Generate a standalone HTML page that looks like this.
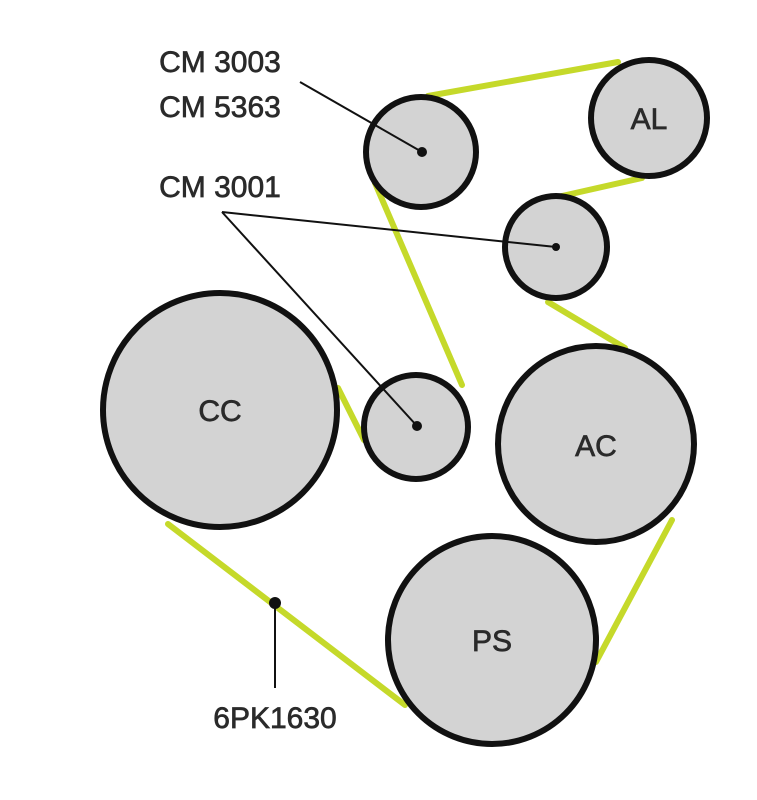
<!DOCTYPE html>
<html><head><style>
html,body{margin:0;padding:0;background:#fff;}
svg{display:block;}
text{font-family:"Liberation Sans",sans-serif;fill:#2a2a2a;stroke:#2a2a2a;stroke-width:0.7;}
</style></head><body>
<svg width="757" height="800" viewBox="0 0 757 800">
<g stroke="#c5d92a" stroke-width="6" stroke-linecap="round">
<line x1="428" y1="96" x2="618" y2="62"/>
<line x1="642" y1="178" x2="562" y2="196"/>
<line x1="548" y1="302" x2="625" y2="348"/>
<line x1="672" y1="520" x2="596" y2="662"/>
<line x1="405" y1="705" x2="168" y2="524"/>
<line x1="338" y1="388" x2="364" y2="440"/>
<line x1="375" y1="183" x2="462" y2="385"/>
</g>
<g fill="#d3d3d3" stroke="#111" stroke-width="6">
<circle cx="421" cy="152" r="55"/>
<circle cx="649" cy="118" r="58"/>
<circle cx="556" cy="247" r="51"/>
<circle cx="220" cy="410" r="117"/>
<circle cx="416" cy="427" r="52"/>
<circle cx="596" cy="444" r="98"/>
<circle cx="492" cy="640" r="104"/>
</g>
<g stroke="#111" stroke-width="2" fill="none">
<line x1="300" y1="82" x2="422" y2="152"/>
<line x1="222" y1="212" x2="556" y2="247"/>
<line x1="222" y1="212" x2="417" y2="426"/>
<line x1="275" y1="603" x2="275" y2="688"/>
</g>
<g fill="#111">
<circle cx="422" cy="152" r="5"/>
<circle cx="556" cy="247" r="4"/>
<circle cx="417" cy="426" r="5"/>
<circle cx="275" cy="603" r="6"/>
</g>
<g font-size="30" text-anchor="middle">
<text x="220" y="72">CM 3003</text>
<text x="220" y="117">CM 5363</text>
<text x="220" y="197">CM 3001</text>
<text x="275" y="728">6PK1630</text>
<text x="649" y="129">AL</text>
<text x="220" y="421">CC</text>
<text x="596" y="456">AC</text>
<text x="492" y="651">PS</text>
</g>
</svg>
</body></html>
